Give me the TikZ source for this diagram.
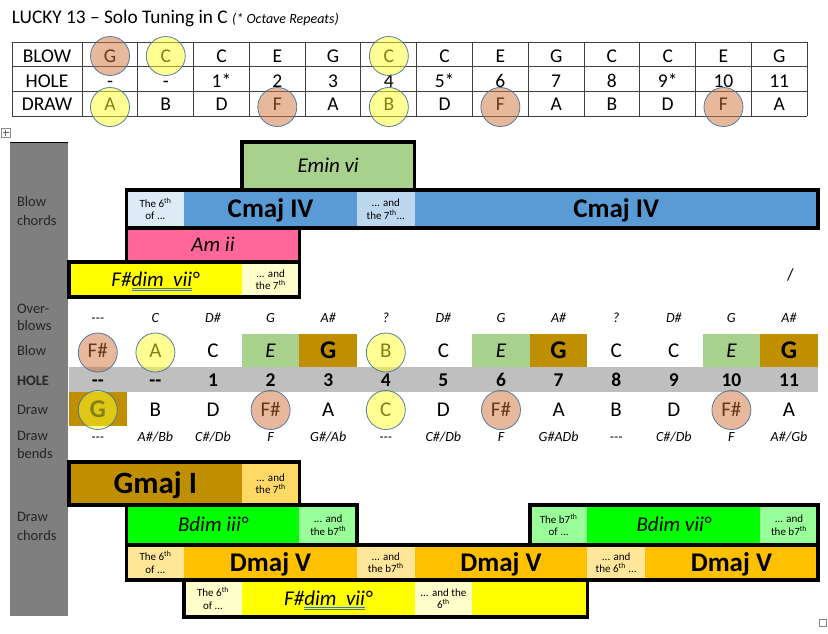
\documentclass[tikz,border=0pt]{standalone}
\usepackage{fontspec}
\setmainfont{Carlito}
\definecolor{cemin}{HTML}{A9D18E}
\definecolor{cblue}{HTML}{5B9BD5}
\definecolor{clightA}{HTML}{DEEBF7}
\definecolor{clightB}{HTML}{BDD7EE}
\definecolor{cpink}{HTML}{FF6699}
\definecolor{cyellow}{HTML}{FFFF00}
\definecolor{clyellow}{HTML}{FFFFCC}
\definecolor{cbrown}{HTML}{BF8F00}
\definecolor{clbrown}{HTML}{FFD966}
\definecolor{cgreen}{HTML}{00FF00}
\definecolor{clgreen}{HTML}{99FF99}
\definecolor{corange}{HTML}{FFC000}
\definecolor{clorange}{HTML}{FFE699}
\definecolor{choleg}{HTML}{BFBFBF}
\definecolor{csideg}{HTML}{7F7F7F}
\definecolor{csalmon}{HTML}{CF7139}
\definecolor{ccircy}{HTML}{FFFF2A}
\definecolor{ccircline}{HTML}{41719C}
\definecolor{ulblue}{HTML}{4472C4}
\definecolor{ctxt}{HTML}{262626}
\newcommand\bluedbl[1]{\setbox0\hbox{#1}\rlap{\textcolor{ulblue}{\rule[-2.2pt]{\wd0}{0.6pt}}}\rlap{\textcolor{ulblue}{\rule[-3.9pt]{\wd0}{0.6pt}}}\box0}
\newcommand\cell[8]{\node[cellbox,fill=#6,#7,minimum width={(#3-#2)*57.6pt},minimum height={(#5-#4)*1pt}] (#1) at ({69+57.6*(#2+#3)/2},{(#4+#5)/2}) {#8};}
\newcommand\thh{\textsuperscript{th}}
\begin{document}
\begin{tikzpicture}[x=1pt,y=-1pt,
  every node/.style={inner sep=0pt,outer sep=0pt},
  cellbox/.style={draw=none,align=center},
  lblit/.style={font=\fontsize{21}{23}\selectfont\itshape,text height=13.5pt,text depth=0pt},
  lblbf/.style={font=\fontsize{27}{30}\selectfont\bfseries,text height=17.4pt,text depth=0pt},
  lblbig/.style={font=\fontsize{31}{34}\selectfont\bfseries,text height=20pt,text depth=0pt},
  smtxt/.style={font=\fontsize{11}{12.5}\selectfont},
  chordframe/.style={draw=black,line width=3.6pt},
  tbltxt/.style={font=\fontsize{19.5}{21}\selectfont,anchor=base},
  tblline/.style={draw=black!75,line width=0.8pt},
  ovtxt/.style={font=\fontsize{14}{16}\selectfont\itshape,anchor=base},
  notetxt/.style={font=\fontsize{21}{23}\selectfont,anchor=base},
  notebf/.style={font=\fontsize{25.5}{27}\selectfont\bfseries,anchor=base},
  holetxt/.style={font=\fontsize{19.5}{21}\selectfont\bfseries,anchor=base},
  sidetxt/.style={font=\fontsize{14.5}{16}\selectfont,text=ctxt,anchor=base west},
  circ/.style={circle,minimum size=39pt,fill opacity=0.5,draw=ccircline,draw opacity=0.9,line width=0.8pt},
  sal/.style={circ,fill=csalmon},
  yel/.style={circ,fill=ccircy}]
\useasboundingbox (0,0) rectangle (828,633);

% title
\node[anchor=base west,font=\fontsize{19.3}{22}\selectfont] (title) at (12,23.3) {LUCKY 13 – Solo Tuning in C \fontsize{14}{16}\selectfont\itshape(* Octave Repeats)};

% top table
\foreach \y in {42,66.5,91,116} \draw[tblline] (12,\y) -- (807,\y);
\draw[tblline] (12,42) -- (12,116);
\foreach \i in {0,...,13} \draw[tblline] ({82+55.77*\i},42) -- ({82+55.77*\i},116);
\node[tbltxt] (tblow) at (47,62.8) {BLOW};
\node[tbltxt] (thole) at (47,87) {HOLE};
\node[tbltxt] (tdraw) at (47,110.8) {DRAW};
\foreach \t [count=\i from 0] in {G,C,C,E,G,C,C,E,G,C,C,E,G}
  \node[tbltxt] (tb\i) at ({110+55.77*\i},62.8) {\t};
\foreach \t [count=\i from 0] in {-,-,1*,2,3,4,5*,6,7,8,9*,10,11}
  \node[tbltxt] (th\i) at ({110+55.77*\i},87) {\t};
\foreach \t [count=\i from 0] in {A,B,D,F,A,B,D,F,A,B,D,F,A}
  \node[tbltxt] (td\i) at ({110+55.77*\i},110.8) {\t};
\node[sal] (tc0) at (110,56) {};
\node[yel] (tc1) at ({110+55.77},56) {};
\node[yel] (tc5) at ({110+55.77*5},56) {};
\node[yel] (tdc0) at (110,107) {};
\node[sal] (tdc3) at ({110+55.77*3},107) {};
\node[yel] (tdc5) at ({110+55.77*5},107) {};
\node[sal] (tdc7) at ({110+55.77*7},107) {};
\node[sal] (tdc11) at ({110+55.77*11},107) {};

% table handle and corner mark
\draw[black!45,line width=0.5pt] (1,128) rectangle (10,137);
\draw[black!60,line width=0.5pt] (5.5,129.5) -- (5.5,135.5) (2.5,132.5) -- (8.5,132.5);
\draw[black!45,line width=0.5pt] (819,619) rectangle (826,626);

% side column
\fill[csideg] (10,142) rectangle (68,616);
\draw[black,line width=1.5pt] (10,142.5) -- (68,142.5);
\node[sidetxt] (sBa) at (17,206.5) {Blow};
\node[sidetxt] (sBb) at (17,225) {chords};
\node[sidetxt] (sOa) at (17,313) {Over-};
\node[sidetxt] (sOb) at (17,330.5) {blows};
\node[sidetxt] (sBl) at (17,355) {Blow};
\node[sidetxt,font=\fontsize{14.4}{16}\selectfont\bfseries] (sHo) at (17,385.5) {HOLE};
\node[sidetxt] (sDr) at (17,414) {Draw};
\node[sidetxt] (sDba) at (17,440.5) {Draw};
\node[sidetxt] (sDbb) at (17,458) {bends};
\node[sidetxt] (sDca) at (17,521.5) {Draw};
\node[sidetxt] (sDcb) at (17,540) {chords};

% blow chords
\cell{emin}{3}{6}{142}{190}{cemin}{lblit}{Emin vi}
\cell{cmA}{1}{2}{190}{228}{clightA}{smtxt}{The 6\thh\\of ...}
\cell{cmB}{2}{5}{190}{228}{cblue}{lblbf}{Cmaj IV}
\cell{cmC}{5}{6}{190}{228}{clightB}{smtxt}{... and\\the 7\thh...}
\cell{cmD}{6}{13}{190}{228}{cblue}{lblbf}{Cmaj IV}
\cell{amii}{1}{4}{228}{262}{cpink}{lblit}{Am ii}
\cell{fdA}{0}{3}{262}{297}{cyellow}{lblit}{F\#\bluedbl{dim~~vii}°}
\cell{fdB}{3}{4}{262}{297}{clyellow}{smtxt}{... and\\the 7\thh}
\draw[chordframe] (241.8,142) rectangle (414.6,190);
\draw[chordframe] (126.6,190) rectangle (817.8,228);
\draw[chordframe] (126.6,228) rectangle (299.4,262);
\draw[chordframe] (69,262) rectangle (299.4,297);
\node[font=\fontsize{17}{19}\selectfont] (slash) at (790.5,275) {/};

% note rows
\cell{bEa}{3}{4}{334}{367}{cemin}{}{}
\cell{bEb}{7}{8}{334}{367}{cemin}{}{}
\cell{bEc}{11}{12}{334}{367}{cemin}{}{}
\cell{bGa}{4}{5}{334}{367}{cbrown}{}{}
\cell{bGb}{8}{9}{334}{367}{cbrown}{}{}
\cell{bGc}{12}{13}{334}{367}{cbrown}{}{}
\cell{hole}{0}{13}{367}{392}{choleg}{}{}
\cell{dG}{0}{1}{392}{426}{cbrown}{}{}

\foreach \t [count=\i from 0] in {-{}-{}-,C,D\#,G,A\#,?,D\#,G,A\#,?,D\#,G,A\#}
  \node[ovtxt] (ov\i) at ({97.8+57.6*\i},322) {\t};
\foreach \t [count=\i from 0] in {F\#,A,C,{},{},B,C,{},{},C,C,{},{}}
  \node[notetxt] (bl\i) at ({97.8+57.6*\i},357.5) {\t};
\foreach \i in {3,7,11}
  \node[notetxt,font=\fontsize{21}{23}\selectfont\itshape] (blE\i) at ({97.8+57.6*\i},357.5) {E};
\foreach \i in {4,8,12}
  \node[notebf] (blG\i) at ({97.8+57.6*\i},358.5) {G};
\foreach \t [count=\i from 0] in {-{}-,-{}-,1,2,3,4,5,6,7,8,9,10,11}
  \node[holetxt] (ho\i) at ({97.8+57.6*\i},386.5) {\t};
\node[notebf] (dr0) at (97.8,417) {G};
\foreach \t [count=\i from 1] in {B,D,F\#,A,C,D,F\#,A,B,D,F\#,A}
  \node[notetxt] (dr\i) at ({97.8+57.6*\i},416) {\t};
\foreach \t [count=\i from 0] in {-{}-{}-,A\#/Bb,C\#/Db,F,G\#/Ab,-{}-{}-,C\#/Db,F,G\#ADb,-{}-{}-,C\#/Db,F,A\#/Gb}
  \node[ovtxt] (db\i) at ({97.8+57.6*\i},441) {\t};

% circles on note rows
\node[sal] (cb0) at (97.8,352.5) {};
\node[yel] (cb1) at ({97.8+57.6},352.5) {};
\node[yel] (cb5) at ({97.8+57.6*5},352.5) {};
\node[yel] (cd0) at (97.8,410) {};
\node[sal] (cd3) at ({97.8+57.6*3},410) {};
\node[yel] (cd5) at ({97.8+57.6*5},410) {};
\node[sal] (cd7) at ({97.8+57.6*7},410) {};
\node[sal] (cd11) at ({97.8+57.6*11},410) {};

% draw chords
\cell{gmA}{0}{3}{462}{505}{cbrown}{lblbig}{Gmaj I}
\cell{gmB}{3}{4}{462}{505}{clbrown}{smtxt}{... and\\the 7\thh}
\cell{biA}{1}{4}{505}{545}{cgreen}{lblit}{Bdim iii°}
\cell{biB}{4}{5}{505}{545}{clgreen}{smtxt}{... and\\the b7\thh}
\cell{bvA}{8}{9}{505}{545}{clgreen}{smtxt}{The b7\thh\\of ...}
\cell{bvB}{9}{12}{505}{545}{cgreen}{lblit}{Bdim vii°}
\cell{bvC}{12}{13}{505}{545}{clgreen}{smtxt}{... and\\the b7\thh}
\cell{dmA}{1}{2}{545}{580}{clorange}{smtxt}{The 6\thh\\of ...}
\cell{dmB}{2}{5}{545}{580}{corange}{lblbf}{Dmaj V}
\cell{dmC}{5}{6}{545}{580}{clorange}{smtxt}{... and\\the b7\thh}
\cell{dmD}{6}{9}{545}{580}{corange}{lblbf}{Dmaj V}
\cell{dmE}{9}{10}{545}{580}{clorange}{smtxt}{... and\\the 6\thh\ ...}
\cell{dmF}{10}{13}{545}{580}{corange}{lblbf}{Dmaj V}
\cell{fbA}{2}{3}{580}{617}{clyellow}{smtxt}{The 6\thh\\of ...}
\cell{fbB}{3}{6}{580}{617}{cyellow}{lblit}{F\#\bluedbl{dim~~vii}°}
\cell{fbC}{6}{7}{580}{617}{clyellow}{smtxt}{... and the\\6\thh}
\cell{fbD}{7}{9}{580}{617}{cyellow}{}{}
\draw[chordframe] (69,462) rectangle (299.4,505);
\draw[chordframe] (126.6,505) rectangle (357,545);
\draw[chordframe] (529.8,505) rectangle (817.8,545);
\draw[chordframe] (126.6,545) rectangle (817.8,580);
\draw[chordframe] (184.2,580) rectangle (587.4,617);
\end{tikzpicture}
\end{document}
